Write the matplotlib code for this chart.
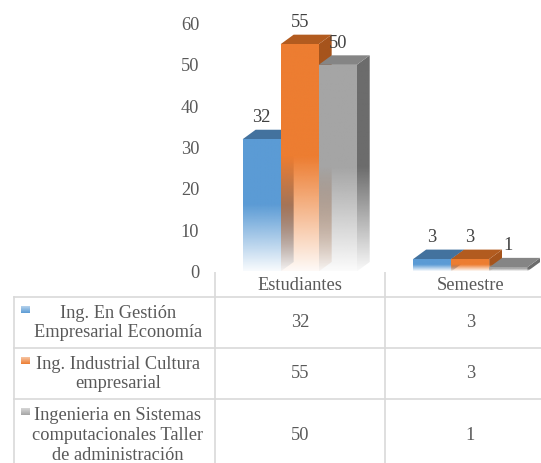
import numpy as np
import matplotlib
matplotlib.use('Agg')
import matplotlib.pyplot as plt
from matplotlib.patches import Polygon
from matplotlib.colors import to_rgb

# ---------------- data ----------------
categories = ['Estudiantes', 'Semestre']
series_names = ['Ing. En Gestión\nEmpresarial Economía',
                'Ing. Industrial Cultura\nempresarial',
                'Ingenieria en Sistemas\ncomputacionales Taller\nde administración']
gestion_values = [32, 3]
industrial_values = [55, 3]
sistemas_values = [50, 1]
y_ticks = [0, 10, 20, 30, 40, 50, 60]

# ---------------- style ----------------
series_values = [gestion_values, industrial_values, sistemas_values]
front_colors = ['#5B9BD5', '#ED7D31', '#A5A5A5']
top_colors = ['#43729E', '#B25B1F', '#858585']
side_colors = ['#3D6890', '#A6541C', '#6C6C6C']
TEXT = '#595959'
LABEL = '#404040'
GRID = '#D9D9D9'
FONT = 'Liberation Serif'
FS = 13.2

plt.rcParams['font.family'] = 'serif'
plt.rcParams['font.serif'] = ['Liberation Serif', 'DejaVu Serif']

W, H = 541, 463
fig = plt.figure(figsize=(W / 100, H / 100), dpi=100)

def fx(x):
    return x / W

def fy(y):
    return 1 - y / H

y0_px, ytop_px = 271.5, 23.5
cat_left, cat_w = 214.5, 170.5
ax = fig.add_axes([fx(cat_left), fy(y0_px), 2 * cat_w / W, (y0_px - ytop_px) / H])
ax.set_xlim(-0.5, 1.5)
ax.set_ylim(0, 60)
for s in ax.spines.values():
    s.set_visible(False)
ax.set_xticks([])
ax.set_yticks(y_ticks)
ax.set_yticklabels([str(t) for t in y_ticks], fontsize=FS, color=TEXT, family=FONT)
ax.tick_params(axis='y', length=0, pad=11)
ax.patch.set_alpha(0)

bar_w = 0.223
group_start = -0.335
dx = 13 / cat_w           # depth in x data units
dy = 9.5 / ((y0_px - ytop_px) / 60)  # depth in y data units


def alpha_profile(n, v, top):
    ys = np.linspace(0, top, n)
    f = np.clip(ys / max(v, 1e-9), 0, None)
    a = np.where(f >= 0.5, 1.0, 0.04 + 0.96 * (f / 0.5))
    return a


def grad_face(verts, color, v, z, solid=False):
    poly = Polygon(verts, closed=True, facecolor='none', edgecolor='none',
                   transform=ax.transData)
    ax.add_patch(poly)
    xs = [p[0] for p in verts]
    ys = [p[1] for p in verts]
    top = max(ys)
    n = 256
    img = np.zeros((n, 1, 4))
    img[:, 0, :3] = to_rgb(color)
    img[:, 0, 3] = 1.0 if solid else alpha_profile(n, v, top)
    im = ax.imshow(img, extent=[min(xs), max(xs), 0, top], origin='lower',
                   aspect='auto', interpolation='bilinear', zorder=z)
    im.set_clip_path(poly)


z = 2
for ci, cat in enumerate(categories):
    for si, vals in enumerate(series_values):
        v = vals[ci]
        x0 = ci + group_start + si * bar_w
        x1 = x0 + bar_w
        # side face (right)
        grad_face([(x1, 0), (x1 + dx, dy), (x1 + dx, v + dy), (x1, v)],
                  side_colors[si], v, z)
        # top face
        top_poly = Polygon([(x0, v), (x1, v), (x1 + dx, v + dy), (x0 + dx, v + dy)],
                           closed=True, facecolor=top_colors[si], edgecolor='none',
                           zorder=z + 0.5)
        ax.add_patch(top_poly)
        # front face
        grad_face([(x0, 0), (x1, 0), (x1, v), (x0, v)], front_colors[si], v, z + 1)
        z += 2
        ax.annotate(str(v), xy=((x0 + x1) / 2, v), xytext=(0, 15.5),
                    textcoords='offset points', ha='center', va='center',
                    fontsize=FS, color=LABEL, family=FONT, zorder=50)

ax.set_xlim(-0.5, 1.5)
ax.set_ylim(0, 60)

# ---------------- data table ----------------
tab = fig.add_axes([0, 0, 1, 1], zorder=-1)
tab.set_xlim(0, W)
tab.set_ylim(H, 0)
tab.axis('off')

row_tops = [297, 348, 399]
row_h = [51, 51, 72]
left_px = 14
col_edges = [cat_left + i * cat_w for i in range(len(categories) + 1)]
lw = 1.2
for x in col_edges:
    tab.plot([x, x], [y0_px, H + 20], color=GRID, lw=lw, solid_capstyle='butt')
tab.plot([left_px, left_px], [row_tops[0], H + 20], color=GRID, lw=lw)
for y in row_tops:
    tab.plot([left_px, W + 20], [y, y], color=GRID, lw=lw)

for ci, cat in enumerate(categories):
    cx = cat_left + (ci + 0.5) * cat_w
    tab.text(cx, 286, cat, ha='center', va='center', fontsize=FS, color=TEXT,
             family=FONT)

for si, name in enumerate(series_names):
    top = row_tops[si]
    cy = top + row_h[si] / 2
    tab.text(118, cy + 0.5, name, ha='center', va='center', fontsize=FS, color=TEXT,
             linespacing=1.2, multialignment='center', family=FONT)
    # legend key with gradient
    n = 32
    img = np.zeros((n, 1, 4))
    img[:, 0, :3] = to_rgb(front_colors[si])
    img[:, 0, 3] = np.linspace(1.0, 0.45, n)
    tab.imshow(img, extent=[20.5, 29.5, top + 16.5, top + 10], origin='lower',
               aspect='auto', interpolation='bilinear')
    for ci in range(len(categories)):
        cx = cat_left + (ci + 0.5) * cat_w
        tab.text(cx, cy, str(series_values[si][ci]), ha='center', va='center',
                 fontsize=FS, color=TEXT, family=FONT)

tab.set_xlim(0, W)
tab.set_ylim(H, 0)

fig.savefig('out.png', dpi=100)
